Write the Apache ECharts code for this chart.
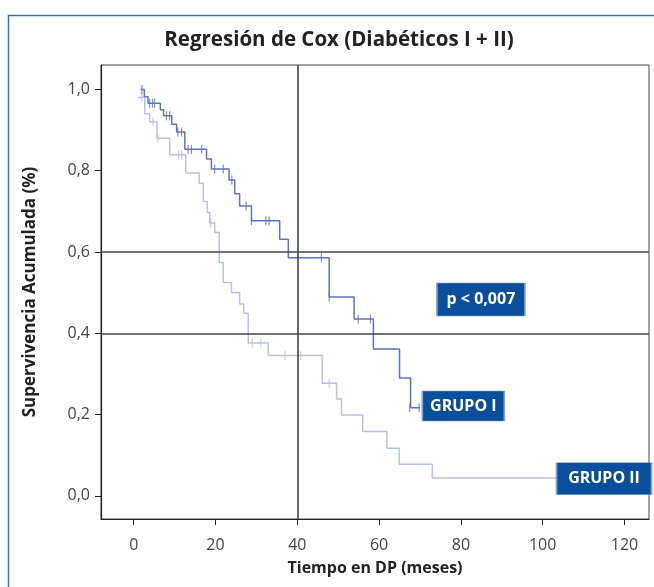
<!DOCTYPE html>
<html>
<head>
<meta charset="utf-8">
<script src="https://cdn.jsdelivr.net/npm/echarts@6/dist/echarts.min.js"></script>
<style>
html, body {margin: 0; padding: 0; background: #fff;}
#chartmain {width: 654px; height: 587px;}
</style>
</head>
<body>
<div id="chartmain"></div>
<script>
// Grupo I: inicio de cada escalón (meses) y supervivencia desde ese punto
var grupo1Tiempo = [1.7, 2.6, 3.5, 6.5, 7.3, 9.3, 10.5, 12.5, 17.8, 19.0, 23.3, 24.7, 25.9, 28.8, 35.7, 37.8, 47.8, 53.9, 58.6, 65.0, 67.7, 70.0];
var grupo1Superv = [1.0, 0.982, 0.966, 0.95, 0.935, 0.914, 0.895, 0.853, 0.829, 0.804, 0.777, 0.743, 0.713, 0.677, 0.631, 0.586, 0.489, 0.435, 0.361, 0.29, 0.217, 0.217];
// casos censurados del grupo I
var grupo1CensT = [2.0, 3.9, 4.6, 5.1, 8.0, 8.8, 10.8, 11.7, 13.3, 14.1, 16.6, 19.8, 21.9, 24.0, 27.5, 28.8, 32.3, 33.1, 45.9, 47.8, 54.9, 57.9, 67.5, 69.8];
var grupo1CensS = [1.0, 0.966, 0.966, 0.966, 0.935, 0.935, 0.895, 0.895, 0.853, 0.853, 0.853, 0.804, 0.804, 0.777, 0.713, 0.677, 0.677, 0.677, 0.586, 0.489, 0.435, 0.435, 0.217, 0.217];

// Grupo II
var grupo2Tiempo = [1.0, 2.7, 3.9, 5.7, 8.8, 12.7, 16.0, 17.0, 18.0, 18.6, 19.8, 20.9, 21.9, 23.9, 25.9, 26.9, 28.0, 32.9, 46.1, 49.6, 50.8, 56.0, 61.9, 64.9, 73.0, 110.0];
var grupo2Superv = [0.98, 0.94, 0.92, 0.88, 0.839, 0.794, 0.769, 0.724, 0.697, 0.671, 0.648, 0.574, 0.525, 0.5, 0.472, 0.449, 0.376, 0.345, 0.277, 0.238, 0.199, 0.158, 0.117, 0.078, 0.044, 0.044];
var grupo2CensT = [2.0, 4.7, 5.9, 11.0, 11.7, 18.8, 29.0, 31.1, 37.0, 40.8, 47.8, 108.7];
var grupo2CensS = [0.98, 0.92, 0.88, 0.839, 0.839, 0.671, 0.376, 0.376, 0.345, 0.345, 0.277, 0.044];

var xTicks = [0, 20, 40, 60, 80, 100, 120];
var yTicks = [0, 0.2, 0.4, 0.6, 0.8, 1.0];

function pares(a, b) {
    var out = [];
    for (var i = 0; i < a.length; i++) out.push([a[i], b[i]]);
    return out;
}

var azulOscuro = '#5c74bd';
var azulClaro = '#b7c2e4';
var azulCaja = '#0b4f9c';

var myChart = echarts.init(document.getElementById('chartmain'));
var option = {
    animation: false,
    backgroundColor: '#fff',
    title: {
        text: 'Regresión de Cox (Diabéticos I + II)',
        left: 334,
        top: 25,
        textAlign: 'center',
        textStyle: {fontFamily: 'Open Sans', fontSize: 20.5, fontWeight: 'bold', color: '#222'}
    },
    graphic: [{
        type: 'rect',
        shape: {x: 8.5, y: 15.5, width: 700, height: 700},
        style: {fill: 'none', stroke: '#3572bd', lineWidth: 1.5},
        silent: true
    }],
    grid: {
        left: 101, right: 5, top: 65, bottom: 68,
        show: true, borderColor: '#444', borderWidth: 1
    },
    xAxis: {
        type: 'value',
        min: -8, max: 126,
        name: 'Tiempo en DP (meses)',
        nameLocation: 'middle',
        nameGap: 41,
        nameTextStyle: {fontFamily: 'Open Sans', fontSize: 16, fontWeight: 'bold', color: '#222'},
        axisLine: {show: true, onZero: false, lineStyle: {color: '#222', width: 1.2}},
        axisTick: {show: true, customValues: xTicks, length: 6, lineStyle: {color: '#222'}},
        axisLabel: {customValues: xTicks, margin: 18, fontFamily: 'Open Sans', fontSize: 16, color: '#444'},
        splitLine: {show: false}
    },
    yAxis: {
        type: 'value',
        min: -0.057, max: 1.06,
        name: 'Supervivencia Acumulada (%)',
        nameLocation: 'middle',
        nameGap: 62,
        nameTextStyle: {fontFamily: 'Open Sans', fontSize: 17, fontWeight: 'bold', color: '#222'},
        axisLine: {show: true, onZero: false, lineStyle: {color: '#222', width: 1.2}},
        axisTick: {show: true, customValues: yTicks, length: 6, lineStyle: {color: '#222'}},
        axisLabel: {
            customValues: yTicks, margin: 11,
            fontFamily: 'Open Sans', fontSize: 16, color: '#444',
            formatter: function (v) { return v.toFixed(1).replace('.', ','); }
        },
        splitLine: {show: false}
    },
    series: [
        {
            name: 'referencias',
            type: 'line',
            data: [],
            silent: true,
            markLine: {
                silent: true,
                symbol: 'none',
                label: {show: false},
                lineStyle: {color: '#444', width: 1.6, type: 'solid'},
                data: [{xAxis: 40}, {yAxis: 0.6}, {yAxis: 0.4}]
            }
        },
        {
            name: 'GRUPO II',
            type: 'line',
            step: 'end',
            symbol: 'none',
            data: pares(grupo2Tiempo, grupo2Superv),
            lineStyle: {color: azulClaro, width: 1.5}
        },
        {
            name: 'GRUPO I',
            type: 'line',
            step: 'end',
            symbol: 'none',
            data: pares(grupo1Tiempo, grupo1Superv),
            lineStyle: {color: azulOscuro, width: 1.5}
        },
        {
            name: 'cens II',
            type: 'scatter',
            symbol: 'rect',
            symbolSize: [1.2, 9],
            itemStyle: {color: azulClaro},
            data: pares(grupo2CensT, grupo2CensS)
        },
        {
            name: 'cens I',
            type: 'scatter',
            symbol: 'rect',
            symbolSize: [1.2, 9],
            itemStyle: {color: azulOscuro},
            data: pares(grupo1CensT, grupo1CensS)
        },
        {
            name: 'etiquetas',
            type: 'scatter',
            z: 10,
            symbol: 'rect',
            itemStyle: {color: azulCaja, borderColor: '#7ea3d4', borderWidth: 1, opacity: 1},
            label: {
                show: true, position: 'inside', formatter: '{b}',
                fontFamily: 'Open Sans', fontSize: 16, fontWeight: 'bold', color: '#fff'
            },
            data: [
                {name: 'p < 0,007', value: [84.9, 0.483], symbolSize: [88, 33]},
                {name: 'GRUPO I', value: [80.6, 0.221], symbolSize: [82, 30]},
                {name: 'GRUPO II', value: [115.0, 0.042], symbolSize: [95, 32]}
            ]
        }
    ]
};
myChart.setOption(option);
</script>
</body>
</html>
